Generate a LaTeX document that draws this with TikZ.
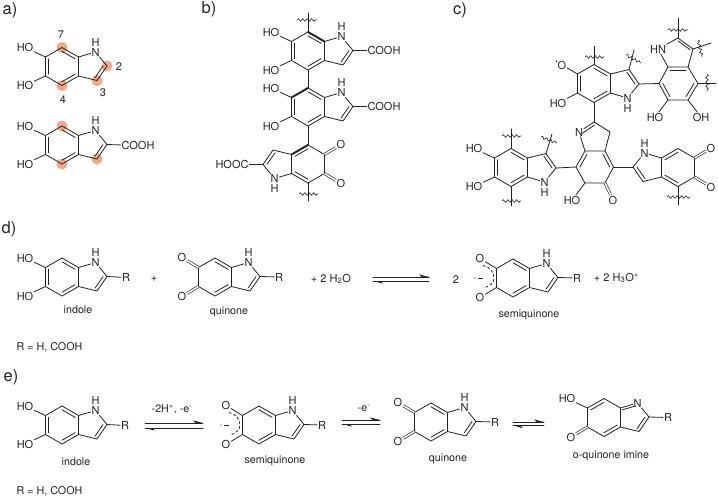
\documentclass[tikz,border=0pt]{standalone}
\usepackage{fontspec}
\setmainfont{TeX Gyre Heros}
\usetikzlibrary{calc,decorations.pathmorphing}
\definecolor{ink}{HTML}{222222}
\definecolor{spot}{HTML}{F3A88C}
\pgfdeclarelayer{bg}
\pgfsetlayers{bg,main}
\tikzset{
  bond/.style={draw=ink,line width=0.8pt,line cap=round},
  boldbond/.style={draw=ink,line width=1.9pt,line cap=round},
  dblbond/.style={draw=ink,double,double distance=1.5pt,line width=0.65pt},
  wavy/.style={draw=ink,line width=0.6pt,decorate,decoration={snake,amplitude=1.3pt,segment length=4.4pt}},
  dashbond/.style={draw=ink,line width=0.8pt,dash pattern=on 2.6pt off 2.2pt},
  atom/.style={inner sep=0.7pt,text=ink,font=\fontsize{11}{12}\selectfont},
  caption/.style={inner sep=0pt,text=ink,font=\fontsize{10.7}{12}\selectfont},
  panel/.style={inner sep=0pt,text=ink,font=\fontsize{16.5}{18}\selectfont},
  eqhead/.style={fill=ink,draw=none}
}
% inner line of a double bond, pulled towards a ring centre
\newcommand\dbl[3]{\draw[bond] ($(#1)!.2!(#3)$) -- ($(#2)!.2!(#3)$);}
% indole skeleton
\newcommand\core[2]{%
  \begin{scope}[#2]
    \coordinate (#1r) at (0,0);
    \coordinate (#1q) at (25,0);
    \coordinate (#1c7) at (0,-19);
    \coordinate (#1c6) at (-16.5,-9.5);
    \coordinate (#1c5) at (-16.5,9.5);
    \coordinate (#1c4) at (0,19);
    \coordinate (#1c3a) at (16.5,9.5);
    \coordinate (#1c7a) at (16.5,-9.5);
    \coordinate (#1c2) at (45,-0.5);
    \coordinate (#1c3) at (35,14);
    \node[atom] (#1n) at (33.5,-14.5) {N};
    \coordinate (#1oa) at (-33,-19.5);
    \coordinate (#1ob) at (-33,19.5);
    \coordinate (#1ha) at (-37,-19);
    \coordinate (#1hb) at (-37,19);
  \end{scope}
  \draw[bond] (#1c7)--(#1c6)--(#1c5)--(#1c4)--(#1c3a)--(#1c7a)--(#1c7);
  \draw[bond] (#1c3a)--(#1c3)--(#1c2)--(#1n)--(#1c7a);
  \dbl{#1c2}{#1c3}{#1q}
}
\newcommand\kek[1]{\dbl{#1c7}{#1c7a}{#1r}\dbl{#1c4}{#1c3a}{#1r}}
\newcommand\Hup[1]{\node[atom] (#1h) at ($(#1n)+(0,-10)$) {H};}
\newcommand\Hdn[1]{\node[atom] (#1h) at ($(#1n)+(0,10)$) {H};}
% 5,6-dihydroxy form
\newcommand\diol[2]{\core{#1}{#2}\kek{#1}\dbl{#1c6}{#1c5}{#1r}
  \node[atom] (#1Oa) at (#1ha) {HO};
  \node[atom] (#1Ob) at (#1hb) {HO};
  \draw[bond] (#1c6)--(#1Oa);
  \draw[bond] (#1c5)--(#1Ob);}
% 5,6-dione form
\newcommand\dione[2]{\core{#1}{#2}\kek{#1}
  \node[atom] (#1Oa) at (#1oa) {O};
  \node[atom] (#1Ob) at (#1ob) {O};
  \draw[dblbond] (#1c6)--(#1Oa);
  \draw[dblbond] (#1c5)--(#1Ob);}
% semiquinone form
\newcommand\semiq[2]{\core{#1}{#2}\kek{#1}
  \node[atom] (#1Oa) at (#1oa) {O};
  \node[atom] (#1Ob) at (#1ob) {O};
  \draw[bond] (#1c6)--(#1Oa);
  \draw[bond] (#1c5)--(#1Ob);
  \begin{scope}[#2]
    \draw[dashbond] (-30,-12.5) .. controls (-23,-11) and (-19,-6) .. (-19,0)
       .. controls (-19,5) and (-23,8) .. (-29,10);
    \fill[ink] (-38,0) circle (0.6);
    \draw[bond] (-34.5,0)--(-30.5,0);
  \end{scope}}
% equilibrium arrows
\newcommand\eqarrow[5]{%
  \coordinate (#1a) at (#2,#4); \coordinate (#1b) at (#3,#4);
  \coordinate (#1c) at (#3,#5); \coordinate (#1d) at (#2,#5);
  \draw[bond] (#1a)--(#1b);
  \draw[bond] (#1c)--(#1d);
  \fill[eqhead] (#1b)--++(-10,-2.6)--++(2.5,2.6)--cycle;
  \fill[eqhead] (#1d)--++(10,2.6)--++(-2.5,-2.6)--cycle;}
\begin{document}
\begin{tikzpicture}[x=1pt,y=-1pt]
\useasboundingbox (0,0) rectangle (718,498);
% panel letters
\node[panel] (pa) at (10,10) {a)};
\node[panel] (pb) at (209,9) {b)};
\node[panel] (pc) at (460,10) {c)};
\node[panel] (pd) at (9,229) {d)};
\node[panel] (pe) at (11,377) {e)};

% ---------- a
\diol{aA}{shift={(62,66.5)}}\Hup{aA}
\node[atom] (n7) at (61,35) {7};
\node[atom] (n2) at (119,67) {2};
\node[atom] (n3) at (103,93) {3};
\node[atom] (n4) at (63,100) {4};
\diol{aB}{shift={(62,145)}}\Hup{aB}
\node[atom] (aBr) at ($(aBc2)+(31,1)$) {COOH};
\draw[bond] (aBc2)--(aBr);
\begin{pgfonlayer}{bg}
  \foreach \p in {aAc7,aAc4,aAc2,aAc3,aBc7,aBc4,aBc3}
    \fill[spot] (\p) circle (5.5);
\end{pgfonlayer}

% ---------- b
\diol{bT}{shift={(308,51)}}\Hup{bT}
\diol{bM}{shift={(308,107)}}\Hup{bM}
\dione{bB}{shift={(308,164)},rotate=180}\Hdn{bB}
\node[atom] (bTr) at ($(bTc2)+(31,0)$) {COOH};
\node[atom] (bMr) at ($(bMc2)+(31,0)$) {COOH};
\node[atom] (bBr) at ($(bBc2)+(-31,0)$) {HOOC};
\draw[bond] (bTc2)--(bTr);
\draw[bond] (bMc2)--(bMr);
\draw[bond] (bBc2)--(bBr);
\draw[bond] (bTc4)--(bMc7);
\draw[bond] (bMc4)--(bBc4);
\draw[boldbond] (bTc7)--(bTc7a);
\draw[boldbond] (bMc7)--(bMc6);
\draw[boldbond] (bBc4)--(bBc3a);
\coordinate (bs1) at (308,13);
\coordinate (bs2) at (308,201);
\draw[bond] (bTc7)--(bs1);
\draw[bond] (bBc7)--(bs2);
\draw[wavy] (297,20)--(317,20);
\draw[wavy] (299,194)--(318,194);

% ---------- c, upper left
\core{cA}{shift={(594,83.5)},yscale=-1}\kek{cA}\dbl{cAc6}{cAc5}{cAr}\Hdn{cA}
\node[atom] (cAOb) at (562,65) {O};
\node[atom] (cAOa) at (558,103) {HO};
\draw[bond] (cAc5)--(cAOb);
\draw[bond] (cAc6)--(cAOa);
\fill[ink] (556.5,61.5) circle (0.8);
\coordinate (cs1) at (594,46);
\coordinate (cs2) at (634,50);
\draw[bond] (cAc4)--(cs1);
\draw[bond] (cAc3)--(cs2);
\draw[wavy] (585,57)--(604,57);
\draw[wavy] (626,55)--(641,63);

% ---------- c, upper right
\coordinate (eTL) at (668,67);
\coordinate (eTR) at (688,67);
\coordinate (eR) at (698,83.5);
\coordinate (eBR) at (688,100);
\coordinate (eBL) at (668,100);
\coordinate (eL) at (659,83.5);
\coordinate (eC) at (678,83.5);
\coordinate (e2) at (678,38);
\coordinate (e3) at (693,49);
\coordinate (e5) at (679,53);
\node[atom] (eN) at (658,49) {HN};
\node[atom] (eOa) at (655,117) {HO};
\node[atom] (eOb) at (701,117) {OH};
\draw[bond] (eTL)--(eTR)--(eR)--(eBR)--(eBL)--(eL)--cycle;
\dbl{eTL}{eTR}{eC}\dbl{eR}{eBR}{eC}\dbl{eBL}{eL}{eC}
\draw[bond] (eTR)--(e3)--(e2)--(eN)--(eTL);
\dbl{e2}{e3}{e5}
\draw[bond] (eBL)--(eOa);
\draw[bond] (eBR)--(eOb);
\draw[bond] (cAc2)--(eL);
\coordinate (es1) at (678,18);
\coordinate (es2) at (711,43);
\coordinate (es3) at (716,83.5);
\draw[bond] (e2)--(es1);
\draw[bond] (e3)--(es2);
\draw[bond] (eR)--(es3);
\draw[wavy] (668,30)--(688,30);
\draw[wavy] (698,40)--(702,57);
\draw[wavy] (707,74)--(707,91);

% ---------- c, centre
\coordinate (mTL) at (585,151);
\coordinate (mTR) at (605,151);
\coordinate (mR) at (613.5,167);
\coordinate (mBR) at (605,183);
\coordinate (mBL) at (585,183);
\coordinate (mL) at (576,167);
\coordinate (mC) at (595,167);
\coordinate (m2) at (594,122);
\coordinate (m3) at (610,132);
\coordinate (m5) at (596,138);
\node[atom] (mN) at (579,132) {N};
\node[atom] (mOa) at (572,200) {HO};
\node[atom] (mOb) at (613,200) {O};
\draw[bond] (mTL)--(mTR)--(mR)--(mBR)--(mBL)--(mL)--cycle;
\dbl{mL}{mTL}{mC}\dbl{mTR}{mR}{mC}
\draw[bond] (mTL)--(mN)--(m2)--(m3)--(mTR);
\dbl{mN}{m2}{m5}
\draw[bond] (mBL)--(mOa);
\draw[dblbond] (mBR)--(mOb);
\draw[bond] (cAc7)--(m2);

% ---------- c, lower left
\diol{cC}{shift={(511,167.5)},yscale=-1}\Hdn{cC}
\draw[bond] (cCc2)--(mL);
\coordinate (cs3) at (511,129);
\coordinate (cs4) at (552,134);
\coordinate (cs5) at (511,206);
\draw[bond] (cCc4)--(cs3);
\draw[bond] (cCc3)--(cs4);
\draw[bond] (cCc7)--(cs5);
\draw[wavy] (502,136)--(521,136);
\draw[wavy] (541,137)--(557,143);
\draw[wavy] (502,201)--(521,201);

% ---------- c, lower right
\dione{cD}{shift={(678,167.5)},xscale=-1}\Hup{cD}
\draw[bond] (mR)--(cDc2);
\coordinate (cs6) at (678,205);
\draw[bond] (cDc4)--(cs6);
\draw[wavy] (667,197)--(690,197);

% ---------- d
\diol{dA}{shift={(62,277)}}\Hup{dA}
\node[atom] (dAr) at ($(dAc2)+(19,1)$) {R};
\draw[bond] (dAc2)--(dAr);
\node[caption] (dAl) at (78,310) {indole};
\node[atom] (dplus) at (154,279) {+};
\dione{dB}{shift={(215,277)}}\Hup{dB}
\node[atom] (dBr) at ($(dBc2)+(19,0.5)$) {R};
\draw[bond] (dBc2)--(dBr);
\node[caption] (dBl) at (229,312) {quinone};
\node[atom,anchor=west] (dwat) at (310,279) {+ 2 H\textsubscript{2}O};
\eqarrow{dE}{373}{429}{277}{281}
\node[atom] (dtwo) at (456,280) {2};
\semiq{dC}{shift={(513,278)}}\Hup{dC}
\node[atom] (dCr) at ($(dCc2)+(19,0.5)$) {R};
\draw[bond] (dCc2)--(dCr);
\node[caption] (dCl) at (529,315) {semiquinone};
\node[atom,anchor=west] (dhyd) at (593,278) {+ 2 H\textsubscript{3}O\textsuperscript{+}};
\node[caption] (dnote) at (49.5,347) {R = H, COOH};

% ---------- e
\diol{fA}{shift={(62,425)}}\Hup{fA}
\node[atom] (fAr) at ($(fAc2)+(18,1)$) {R};
\draw[bond] (fAc2)--(fAr);
\node[caption] (fAl) at (76,462) {indole};
\eqarrow{fE}{145}{203}{423}{428}
\node[caption] (fEl) at (172,409) {-2H\textsuperscript{+}, -e\textsuperscript{-}};
\semiq{fB}{shift={(259,425)}}\Hup{fB}
\node[atom] (fBr) at ($(fBc2)+(18,0.5)$) {R};
\draw[bond] (fBc2)--(fBr);
\node[caption] (fBl) at (275,461) {semiquinone};
\eqarrow{fF}{342}{380}{420}{424}
\node[caption] (fFl) at (364,408) {-e\textsuperscript{-}};
\dione{fC}{shift={(431,422)}}\Hup{fC}
\node[atom] (fCr) at ($(fCc2)+(19,0.5)$) {R};
\draw[bond] (fCc2)--(fCr);
\node[caption] (fCl) at (448,459) {quinone};
\eqarrow{fG}{513}{544}{422}{425.5}
\core{fD}{shift={(604,417.5)}}
\dbl{fDc7}{fDc6}{fDr}\dbl{fDc4}{fDc3a}{fDr}\dbl{fDc7a}{fDn}{fDq}
\node[atom] (fDOa) at (fDha) {HO};
\node[atom] (fDOb) at (fDob) {O};
\draw[bond] (fDc6)--(fDOa);
\draw[dblbond] (fDc5)--(fDOb);
\node[atom] (fDr2) at ($(fDc2)+(19,0.5)$) {R};
\draw[bond] (fDc2)--(fDr2);
\node[caption] (fDl) at (611,456) {o-quinone imine};
\node[caption] (fnote) at (49.5,491) {R = H, COOH};
\end{tikzpicture}
\end{document}
